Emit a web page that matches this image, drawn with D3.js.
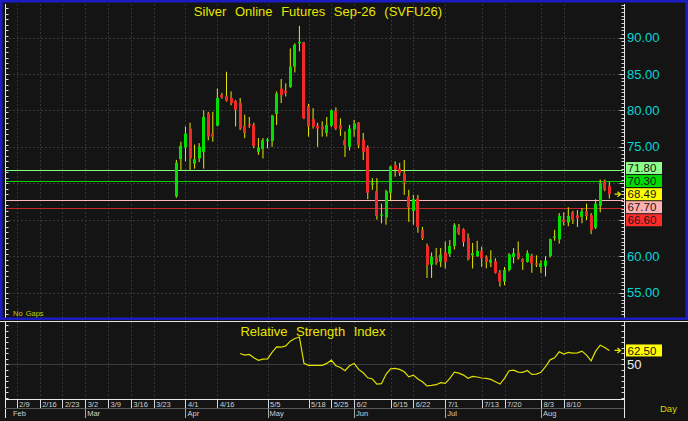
<!DOCTYPE html>
<html><head><meta charset="utf-8">
<script src="https://cdn.jsdelivr.net/npm/d3@7"></script>
<style>
html,body{margin:0;padding:0;background:#141414;overflow:hidden}
svg{display:block}
text{font-family:"Liberation Sans",Arial,sans-serif}
</style></head><body>
<svg id="chart" width="688" height="421"></svg>
<script>
// ---------- data ----------
const opens  = [68.2,73.3,74.9,77.5,72.7,73.4,74.3,79.6,76.8,77.9,82.1,82.0,81.7,81.3,81.0,77.9,78.1,78.0,74.3,74.7,
  75.8,75.8,79.5,83.0,82.7,83.2,86.0,89.2,89.3,80.6,78.8,77.9,77.8,76.9,77.9,79.9,78.0,75.9,75.0,77.4,
  78.3,76.0,74.9,69.8,68.9,65.6,65.3,68.7,72.5,72.0,71.3,68.2,66.2,67.9,63.6,61.4,58.8,59.8,59.2,60.5,
  60.3,61.4,63.9,63.7,62.5,60.1,60.0,60.7,59.9,59.1,59.3,57.7,56.5,58.1,59.9,60.5,59.6,59.2,60.0,59.0,
  58.5,58.6,60.0,62.5,62.3,65.0,64.6,66.0,65.6,65.4,66.2,65.6,63.9,66.9,70.3,69.6];
const highs  = [73.2,75.7,77.8,78.3,75.3,75.5,80.0,79.8,79.8,83.0,82.4,85.3,82.6,81.4,81.7,79.4,79.1,78.3,76.2,76.2,
  76.2,79.4,82.6,84.3,83.7,88.5,89.2,91.6,89.4,80.9,80.3,78.3,78.5,79.1,80.1,80.4,78.9,77.1,78.0,78.7,
  78.4,76.9,75.2,70.7,70.7,67.2,69.1,72.4,73.0,72.8,73.2,69.1,68.4,68.4,64.0,61.7,60.5,61.1,61.1,62.0,
  62.2,64.5,64.4,63.8,63.1,61.8,62.1,61.3,60.1,60.8,59.7,58.1,58.5,60.4,61.1,62.0,59.7,60.8,60.3,60.1,
  59.4,60.0,62.4,63.6,65.9,66.0,66.7,66.2,66.3,66.6,67.2,65.9,67.8,70.5,70.5,70.2];
const lows   = [68.0,71.8,73.0,71.8,72.0,72.9,72.0,75.9,75.7,77.8,81.6,81.2,80.7,77.8,77.3,76.2,77.6,74.8,73.9,73.4,
  74.8,75.0,78.0,81.0,81.9,83.1,85.2,88.1,78.8,76.4,77.5,75.0,76.4,76.4,77.7,77.3,76.5,73.6,74.5,76.4,
  74.8,73.2,67.8,69.1,65.0,64.5,64.3,67.6,70.9,71.0,68.4,64.7,64.3,63.2,62.2,57.0,57.0,58.8,58.5,58.3,
  59.9,60.9,62.9,61.3,59.4,58.3,59.9,58.5,58.3,58.5,57.6,55.8,56.0,57.9,59.0,59.5,58.1,59.1,57.7,58.5,
  57.7,57.2,59.8,62.1,61.7,64.2,64.1,64.4,64.0,64.5,64.95,63.0,63.7,66.0,68.9,67.9];
const closes = [72.8,75.15,76.8,73.4,73.3,75.0,79.1,76.4,76.4,81.7,81.8,81.3,81.0,80.1,77.5,76.9,77.9,75.1,74.9,75.9,
  76.0,79.3,82.3,82.1,82.4,86.0,89.0,89.4,78.9,77.8,77.8,77.5,77.4,78.0,80.0,77.5,77.4,75.2,77.5,78.2,
  75.2,74.3,68.7,70.0,65.5,65.7,68.9,72.3,71.9,71.4,70.1,66.7,67.8,64.0,62.4,58.8,59.9,59.1,60.2,59.2,
  61.4,64.3,63.1,61.9,59.6,60.4,60.7,59.7,59.2,59.5,57.7,56.5,58.1,60.2,60.4,59.7,59.2,60.4,59.0,58.8,
  59.0,59.4,62.3,62.7,65.5,64.7,65.5,65.0,65.2,66.1,65.5,63.6,67.2,70.0,69.1,68.49];

const rsiStartIndex = 14;
const rsiValues = [59.8,58.3,58.9,55.9,53.6,54.7,55.0,60.7,65.7,65.4,66.6,70.8,73.2,74.6,50.9,49.1,49.1,49.1,49.1,50.9,
  53.8,48.8,47.3,44.3,48.8,50.9,45.5,42.5,38.0,36.9,32.4,32.7,41.1,46.1,46.4,45.5,43.4,38.9,40.4,36.9,
  34.5,30.8,31.2,31.8,33.6,33.0,37.5,43.1,42.2,40.4,37.5,39.3,38.7,37.8,37.5,36.6,34.5,32.4,37.5,44.3,
  44.9,43.1,42.9,44.6,41.1,41.3,42.9,47.9,54.1,55.9,61.3,59.2,60.7,60.1,60.4,61.9,58.3,53.2,61.9,67.2,
  65.2,62.5];

const dayTickLabels = ["2/9","2/16","2/23","3/2","3/9","3/16","3/23","4/1","4/16","5/5","5/18","5/25","6/2","6/15","6/22","7/1","7/13","7/20","8/3","8/10"];
const dayTickSlots  = [-35,-30,-25,-20,-15,-10,-5,2,9,20,29,34,39,47,52,59,67,72,80,85];
const monthLabels = ["Feb","Mar","Apr","May","Jun","Jul","Aug"];
const monthSlots  = [-40,-20,2,20,39,59,80];
const priceTicks = [55,60,65,70,75,80,85,90];
const levelValues = [71.80,70.30,67.70,66.60];
const rsiLabelTicks = [50];
const titleText = "Silver Online Futures Sep-26 (SVFU26)";
const rsiTitleText = "Relative Strength Index";

// ---------- layout / style ----------
const W = 688, H = 421;
const plotL = 5, plotR = 623;
const pTop = 4, pBot = 318;
const rTop = 322, rBot = 399;
const bg = "#141414";
const levelLine = ["#80ff80","#00d400","#ffb8b8","#c42a2a"];
const levelBox  = ["#8cff8c","#00dc00","#ffb0b0","#ff2c2c"];
const up = "#00e000", down = "#f02828", wick = "#e8e800", yel = "#e6e600";
const boxFont = 11.5, boxH = 12, sep = 13;

const svg = d3.select("#chart");
svg.append("rect").attr("width",W).attr("height",H).attr("fill",bg);

const x = d3.scaleLinear().domain([-37.6, 98]).range([plotL, plotR]);
const y = d3.scaleLinear().domain([51.5, 94.6]).range([pBot, pTop]);
const yr = d3.scaleLinear().domain([19, 88]).range([rBot, rTop]);

const defs = svg.append("defs");
defs.append("clipPath").attr("id","pclip").append("rect")
  .attr("x",plotL).attr("y",pTop).attr("width",plotR-plotL).attr("height",pBot-pTop);
defs.append("clipPath").attr("id","rclip").append("rect")
  .attr("x",plotL).attr("y",rTop).attr("width",plotR-plotL).attr("height",rBot-rTop);

// ---------- price panel ----------
const pg = svg.append("g").attr("clip-path","url(#pclip)");
pg.selectAll(".hg").data(priceTicks).join("line")
  .attr("x1",plotL).attr("x2",plotR)
  .attr("y1",d=>Math.round(y(d))+0.5).attr("y2",d=>Math.round(y(d))+0.5)
  .attr("stroke","#3a3a3a").attr("stroke-dasharray","2,2");
pg.selectAll(".vg").data(dayTickSlots).join("line")
  .attr("x1",d=>Math.round(x(d))+0.5).attr("x2",d=>Math.round(x(d))+0.5)
  .attr("y1",pTop).attr("y2",pBot)
  .attr("stroke","#343434").attr("stroke-dasharray","2,2");

pg.selectAll(".lvl").data(levelValues).join("line")
  .attr("x1",plotL).attr("x2",plotR)
  .attr("y1",d=>Math.round(y(d))+0.5).attr("y2",d=>Math.round(y(d))+0.5)
  .attr("stroke",(d,i)=>levelLine[i]).attr("stroke-width",1);

const idx = d3.range(closes.length);
pg.selectAll(".wick").data(idx).join("line")
  .attr("x1",i=>x(i)).attr("x2",i=>x(i))
  .attr("y1",i=>y(highs[i])).attr("y2",i=>y(lows[i]))
  .attr("stroke",wick).attr("stroke-width",1);
pg.selectAll(".body").data(idx).join("rect")
  .attr("x",i=>Math.round(x(i)-1.5))
  .attr("width",3)
  .attr("y",i=>y(Math.max(opens[i],closes[i])))
  .attr("height",i=>Math.max(1.2, Math.abs(y(opens[i])-y(closes[i]))))
  .attr("fill",i=>closes[i]>=opens[i]?up:down);

svg.append("text").attr("x",318).attr("y",16).attr("text-anchor","middle")
  .attr("font-size",13).attr("word-spacing",5).attr("fill",yel).text(titleText);
svg.append("text").attr("x",13).attr("y",316).attr("font-size",7.5)
  .attr("fill","#c8c800").attr("word-spacing",1).text("No Gaps");

// right price axis
const ax = 624.5;
svg.append("line").attr("x1",ax).attr("x2",ax).attr("y1",pTop).attr("y2",pBot).attr("stroke","#e8e8e8");
const minorP = d3.range(52, 94.6, 0.5);
svg.selectAll(".rtick").data(minorP).join("line")
  .attr("x1",d=>ax-(d%5===0?5:3)).attr("x2",ax)
  .attr("y1",d=>Math.round(y(d))+0.5).attr("y2",d=>Math.round(y(d))+0.5)
  .attr("stroke","#d8d8d8");
// left axis
svg.append("line").attr("x1",plotL+0.5).attr("x2",plotL+0.5).attr("y1",pTop).attr("y2",pBot).attr("stroke","#e8e8e8");
svg.selectAll(".ltick").data(d3.range(52, 94.6, 0.75)).join("line")
  .attr("x1",plotL).attr("x2",plotL+3.5)
  .attr("y1",d=>Math.round(y(d))+0.5).attr("y2",d=>Math.round(y(d))+0.5)
  .attr("stroke","#d8d8d8");

// value boxes with collision avoidance, last price fixed
const last = closes[closes.length-1];
const lastY = y(last);
let boxes = levelValues.map((v,i)=>({v, y:y(v), fill:levelBox[i]}));
let above = boxes.filter(b=>b.v>last).sort((a,b)=>b.y-a.y);
let below = boxes.filter(b=>b.v<=last).sort((a,b)=>a.y-b.y);
let prev = lastY;
above.forEach(b=>{ b.y = Math.min(b.y, prev-sep); prev=b.y; });
prev = lastY;
below.forEach(b=>{ b.y = Math.max(b.y, prev+sep); prev=b.y; });
boxes = boxes.concat([{v:last, y:lastY, fill:"#ffff00"}]);

// price tick labels (hidden where boxes sit)
svg.selectAll(".plab").data(priceTicks.filter(t=>boxes.every(b=>Math.abs(b.y-y(t))>10))).join("text")
  .attr("x",627).attr("y",d=>y(d)+4.6).attr("font-size",13).attr("fill","#00d8d8")
  .text(d=>d.toFixed(2));

const bx = svg.selectAll(".box").data(boxes).join("g");
bx.append("rect").attr("x",626).attr("y",d=>d.y-boxH/2).attr("width",36).attr("height",boxH).attr("fill",d=>d.fill);
bx.append("text").attr("x",627.5).attr("y",d=>d.y+4.2).attr("font-size",boxFont).attr("fill","#161616").text(d=>d.v.toFixed(2));

function arrow(yy){
  svg.append("path").attr("d",`M614.5,${yy} H620.5 M617.5,${yy-2.5} L620.5,${yy} L617.5,${yy+2.5}`)
    .attr("stroke",yel).attr("stroke-width",1.2).attr("fill","none");
}
arrow(lastY);

// frame
svg.append("rect").attr("x",1.25).attr("y",1.25).attr("width",685.5).attr("height",317.5)
  .attr("fill","none").attr("stroke","#1c1cc4").attr("stroke-width",2.5);
svg.append("line").attr("x1",0).attr("x2",W).attr("y1",321.5).attr("y2",321.5).attr("stroke","#e4e4e4").attr("stroke-width",1.2);

// ---------- RSI panel ----------
const rg = svg.append("g").attr("clip-path","url(#rclip)");
rg.selectAll(".rvg").data(dayTickSlots).join("line")
  .attr("x1",d=>Math.round(x(d))+0.5).attr("x2",d=>Math.round(x(d))+0.5)
  .attr("y1",rTop).attr("y2",rBot).attr("stroke","#343434").attr("stroke-dasharray","2,2");
rg.selectAll(".rhg").data(rsiLabelTicks).join("line")
  .attr("x1",plotL).attr("x2",plotR)
  .attr("y1",d=>Math.round(yr(d))+0.5).attr("y2",d=>Math.round(yr(d))+0.5)
  .attr("stroke","#3c3c3c");
const rline = d3.line().x((d,k)=>x(rsiStartIndex+k)).y(d=>yr(d));
rg.append("path").datum(rsiValues).attr("d",rline).attr("fill","none")
  .attr("stroke","#e0e000").attr("stroke-width",1.2);
svg.append("text").attr("x",313).attr("y",336).attr("text-anchor","middle")
  .attr("font-size",13).attr("word-spacing",5).attr("fill",yel).text(rsiTitleText);

svg.append("line").attr("x1",ax).attr("x2",ax).attr("y1",rTop).attr("y2",rBot).attr("stroke","#e8e8e8");
svg.selectAll(".rrt").data(d3.range(20, 88, 5)).join("line")
  .attr("x1",ax-3).attr("x2",ax).attr("y1",d=>Math.round(yr(d))+0.5).attr("y2",d=>Math.round(yr(d))+0.5)
  .attr("stroke","#d8d8d8");
svg.append("line").attr("x1",plotL+0.5).attr("x2",plotL+0.5).attr("y1",rTop).attr("y2",418).attr("stroke","#e8e8e8");
svg.selectAll(".rlt").data(d3.range(20, 88, 5)).join("line")
  .attr("x1",plotL).attr("x2",plotL+3.5).attr("y1",d=>Math.round(yr(d))+0.5).attr("y2",d=>Math.round(yr(d))+0.5)
  .attr("stroke","#d8d8d8");
svg.selectAll(".rlab").data(rsiLabelTicks).join("text")
  .attr("x",627).attr("y",d=>yr(d)+4.6).attr("font-size",13).attr("fill","#f0f0f0").text(d=>d);
const lastR = rsiValues[rsiValues.length-1];
svg.append("rect").attr("x",626).attr("y",yr(lastR)-boxH/2).attr("width",36).attr("height",boxH).attr("fill","#ffff00");
svg.append("text").attr("x",627.5).attr("y",yr(lastR)+4.2).attr("font-size",boxFont).attr("fill","#161616").text(lastR.toFixed(2));
arrow(yr(lastR));

// ---------- date rows ----------
svg.append("line").attr("x1",plotL).attr("x2",ax).attr("y1",399.5).attr("y2",399.5).attr("stroke","#e8e8e8");
svg.append("line").attr("x1",plotL).attr("x2",ax).attr("y1",408.5).attr("y2",408.5).attr("stroke","#5a5a5a");
svg.append("line").attr("x1",ax).attr("x2",ax).attr("y1",399).attr("y2",418).attr("stroke","#e8e8e8");
svg.selectAll(".dsep").data(dayTickSlots).join("line")
  .attr("x1",d=>Math.round(x(d))+0.5).attr("x2",d=>Math.round(x(d))+0.5)
  .attr("y1",399.5).attr("y2",408).attr("stroke","#d8d8d8");
svg.selectAll(".dlab").data(dayTickLabels).join("text")
  .attr("x",(d,i)=>x(dayTickSlots[i])+2.5).attr("y",406.5).attr("font-size",7.5)
  .attr("fill","#d0d0d0").text(d=>d);
svg.selectAll(".msep").data(monthSlots.filter(s=>x(s)>plotL+1)).join("line")
  .attr("x1",d=>Math.round(x(d))+0.5).attr("x2",d=>Math.round(x(d))+0.5)
  .attr("y1",408.5).attr("y2",418).attr("stroke","#a8a8a8");
svg.selectAll(".mlab").data(monthLabels).join("text")
  .attr("x",(d,i)=>Math.max(x(monthSlots[i])+2, plotL+8)).attr("y",416.3).attr("font-size",7.5)
  .attr("fill","#d0d0d0").text(d=>d);
svg.append("text").attr("x",660).attr("y",412).attr("font-size",9.5).attr("fill","#d4d400").text("Day");
</script>
</body></html>
